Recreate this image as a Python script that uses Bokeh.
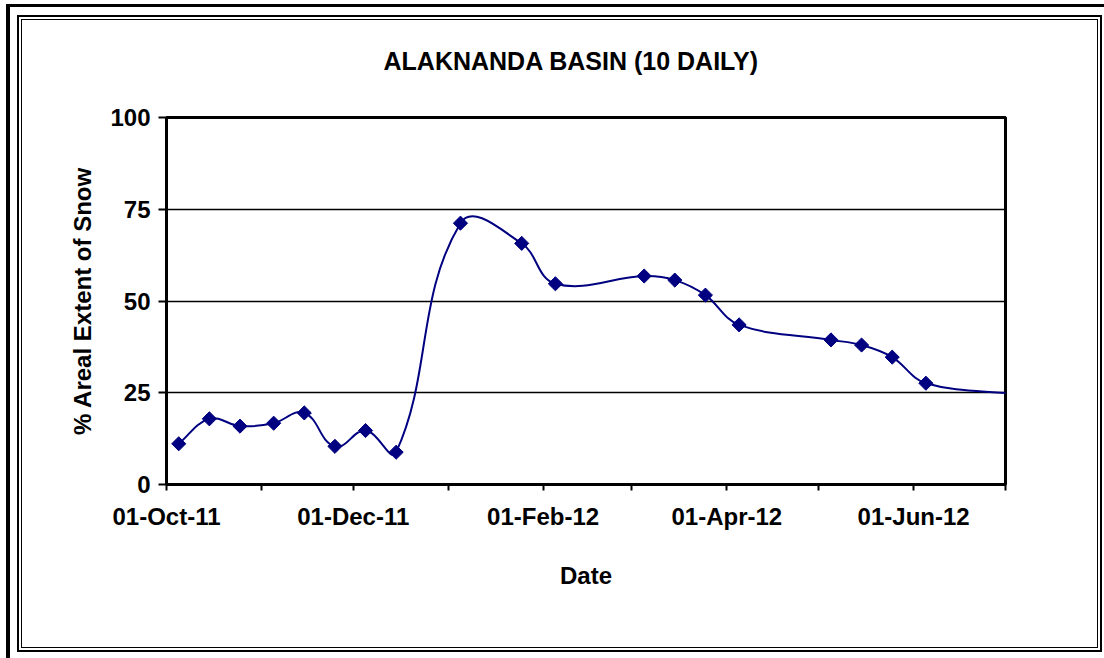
import numpy as np
from bokeh.plotting import figure
from bokeh.models import FixedTicker, Range1d, DatetimeTickFormatter, InlineStyleSheet
from bokeh.embed import file_html
from bokeh.resources import INLINE

# ---------------- data ----------------
dates = ["2011-10-05", "2011-10-15", "2011-10-25", "2011-11-05", "2011-11-15",
         "2011-11-25", "2011-12-05", "2011-12-15", "2012-01-05", "2012-01-25",
         "2012-02-05", "2012-03-05", "2012-03-15", "2012-03-25", "2012-04-05",
         "2012-05-05", "2012-05-15", "2012-05-25", "2012-06-05", "2012-07-05"]
snow = [11.1, 17.9, 15.9, 16.7, 19.5, 10.4, 14.7, 8.8, 71.2, 65.7,
        54.7, 56.8, 55.7, 51.6, 43.5, 39.4, 38.0, 34.7, 27.6, 24.6]

tick_dates = ["2011-10-01", "2011-12-01", "2012-02-01", "2012-04-01", "2012-06-01"]
tick_labels = ["01-Oct-11", "01-Dec-11", "01-Feb-12", "01-Apr-12", "01-Jun-12"]
minor_dates = ["2011-11-01", "2012-01-01", "2012-03-01", "2012-05-01", "2012-07-01"]
y_ticks = [0, 25, 50, 75, 100]
y_grid = [25, 50, 75]
x_start, x_end = "2011-10-01", "2012-07-01"
y_start, y_end = 0, 100

title_text = "ALAKNANDA BASIN (10 DAILY)"
x_title = "Date"
y_title = "% Areal Extent of Snow"


def to_ms(d):
    return np.array(d, dtype="datetime64[ms]").astype(np.int64).astype(float)


x = to_ms(dates)
y = np.array(snow, dtype=float)

FONT = "Liberation Sans"
NAVY = "#000080"
W, H = 1104, 658
ML, MR, MT, MB = 166, 99, 117, 174

frame_css = """
:host::before {
  content: ""; position: absolute; left: 6px; top: 4px; right: 0px; bottom: 0px;
  border-left: 4px solid black; border-top: 3px solid black;
  pointer-events: none; z-index: 100;
}
:host::after {
  content: ""; position: absolute; left: 17px; top: 15px; width: 1085px; height: 637px;
  box-sizing: border-box; border: 2px solid black;
  box-shadow: inset 0 0 0 2px white, inset 0 0 0 3px black;
  pointer-events: none; z-index: 100;
}
"""

xr = Range1d(to_ms([x_start])[0], to_ms([x_end])[0])
yr = Range1d(y_start, y_end)

p = figure(width=W, height=H, output_backend="svg", toolbar_location=None,
           x_range=xr, y_range=yr,
           min_border_left=ML, min_border_right=MR,
           min_border_top=MT, min_border_bottom=MB,
           background_fill_color="white", border_fill_color="white",
           stylesheets=[InlineStyleSheet(css=frame_css)])

p.outline_line_color = "black"
p.outline_line_width = 3

# title
p.title.text = title_text
p.title.text_font = FONT
p.title.text_font_style = "bold"
p.title.text_font_size = "25px"
p.title.text_color = "black"
p.title.align = "left"
p.title.offset = 217
p.title.standoff = 10
for pad in (dict(left=0, right=0, top=0, bottom=38), (0, 0, 38, 0)):
    try:
        p.title.padding = pad
        break
    except Exception:
        pass

# axes
xa = p.xaxis[0]
tick_ms = to_ms(tick_dates)
xa.ticker = FixedTicker(ticks=list(tick_ms), minor_ticks=list(to_ms(minor_dates)))
xa.formatter = DatetimeTickFormatter(days="%d-%b-%y", months="%d-%b-%y", years="%d-%b-%y")
xa.major_label_overrides = {int(t): lab for t, lab in zip(tick_ms, tick_labels)}
xa.axis_line_width = 3
xa.axis_line_color = "black"
xa.major_tick_out = 6
xa.major_tick_in = 0
xa.minor_tick_out = 6
xa.minor_tick_in = 0
xa.major_tick_line_width = 2
xa.minor_tick_line_width = 2
xa.minor_tick_line_color = "black"
xa.major_label_text_font = FONT
xa.major_label_text_font_style = "bold"
xa.major_label_text_font_size = "24px"
xa.major_label_text_color = "black"
xa.major_label_standoff = 12
xa.axis_label = x_title
xa.axis_label_text_font = FONT
xa.axis_label_text_font_style = "bold"
xa.axis_label_text_font_size = "24px"
xa.axis_label_text_color = "black"
xa.axis_label_standoff = 29

ya = p.yaxis[0]
ya.ticker = FixedTicker(ticks=y_ticks, minor_ticks=[])
ya.axis_line_width = 3
ya.axis_line_color = "black"
ya.major_tick_out = 8
ya.major_tick_in = 0
ya.major_tick_line_width = 2
ya.major_label_text_font = FONT
ya.major_label_text_font_style = "bold"
ya.major_label_text_font_size = "24px"
ya.major_label_text_color = "black"
ya.major_label_standoff = 8
ya.axis_label = y_title
ya.axis_label_text_font = FONT
ya.axis_label_text_font_style = "bold"
ya.axis_label_text_font_size = "24px"
ya.axis_label_text_color = "black"
ya.axis_label_standoff = 11

p.xgrid.visible = False
p.ygrid.ticker = FixedTicker(ticks=y_grid)
p.ygrid.grid_line_color = "black"
p.ygrid.grid_line_width = 1.3

# smoothed line drawn as Bezier segments (Excel-like smoothing, handles in screen space)
sx = (W - ML - MR) / (xr.end - xr.start)   # px per ms
sy = (H - MT - MB) / (yr.end - yr.start)   # px per unit
X, Y = x * sx, y * sy
n = len(X)
k = 0.36


def handle(i_prev, i_next, seg_len):
    dx, dy = X[i_next] - X[i_prev], Y[i_next] - Y[i_prev]
    L = np.hypot(dx, dy)
    return dx / L * seg_len * k, dy / L * seg_len * k


cx0, cy0, cx1, cy1 = [], [], [], []
for i in range(n - 1):
    seg = np.hypot(X[i + 1] - X[i], Y[i + 1] - Y[i])
    hx, hy = handle(max(i - 1, 0), i + 1, seg)
    cx0.append((X[i] + hx) / sx)
    cy0.append((Y[i] + hy) / sy)
    hx, hy = handle(i, min(i + 2, n - 1), seg)
    cx1.append((X[i + 1] - hx) / sx)
    cy1.append((Y[i + 1] - hy) / sy)

p.bezier(x0=x[:-1], y0=y[:-1], x1=x[1:], y1=y[1:],
         cx0=cx0, cy0=cy0, cx1=cx1, cy1=cy1, line_color=NAVY, line_width=2)

p.scatter(x=x, y=y, marker="square", angle=np.pi / 4, size=10,
          fill_color=NAVY, line_color=NAVY)

open("out.html", "w").write(file_html(p, INLINE))
